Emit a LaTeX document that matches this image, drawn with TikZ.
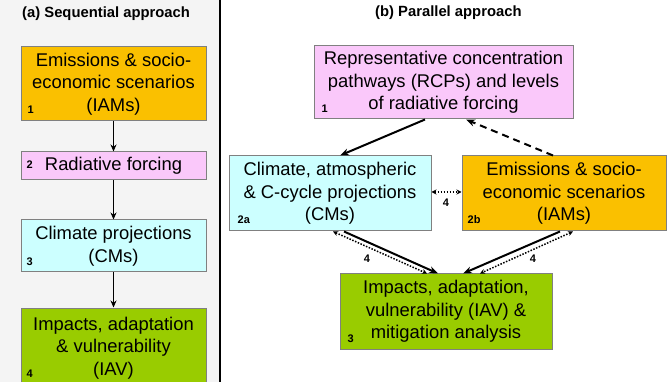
\documentclass[tikz,border=0pt]{standalone}
\usepackage{fontspec}
\setmainfont{Liberation Sans}
\usetikzlibrary{arrows.meta,positioning}
\definecolor{iamorange}{RGB}{250,192,0}
\definecolor{rcppink}{RGB}{250,200,250}
\definecolor{cmcyan}{RGB}{204,255,255}
\definecolor{iavgreen}{RGB}{153,204,0}
\definecolor{panelgray}{RGB}{244,244,244}

\tikzset{
  box/.style={draw=gray, line width=1pt, align=center, inner sep=0pt,
    font=\fontsize{18.4}{22.5}\selectfont},
  num/.style={font=\bfseries\fontsize{11}{12}\selectfont, inner sep=0pt},
  paneltitle/.style={font=\bfseries\fontsize{14.8}{17}\selectfont, inner sep=0pt},
  seq/.style={-{Stealth[length=7pt,width=6pt]}, line width=1.4pt},
  par/.style={-{Stealth[length=9pt,width=7pt]}, line width=2pt},
  dots/.style={{Stealth[length=5pt,width=5pt]}-{Stealth[length=5pt,width=5pt]},
    line width=1.5pt, dash pattern=on 1.5pt off 1.5pt}
}

\begin{document}
\begin{tikzpicture}[x=1pt,y=-1pt]
  % panels
  \clip (0,0) rectangle (667,382);
  \fill[panelgray] (0,0) rectangle (220,382);
  \fill[white] (220,0) rectangle (667,382);
  \draw[line width=2pt] (220,0) -- (220,382);

  % titles
  \node[paneltitle, anchor=west] (ta) at (22,14) {(a) Sequential approach};
  \node[paneltitle, anchor=west] (tb) at (375,13) {(b) Parallel approach};

  % (a) boxes
  \node[box, fill=iamorange, minimum width=185pt, minimum height=74pt] (a1) at (113.5,84)
    {Emissions \& socio-\\economic scenarios\\(IAMs)};
  \node[box, fill=rcppink, minimum width=185pt, minimum height=28pt] (a2) at (113.5,166)
    {Radiative forcing};
  \node[box, fill=cmcyan, minimum width=185pt, minimum height=52pt] (a3) at (113.5,246)
    {Climate projections\\(CMs)};
  \node[box, fill=iavgreen, minimum width=185pt, minimum height=80pt] (a4) at (113.5,348)
    {Impacts, adaptation\\\& vulnerability\\(IAV)};

  \node[num, above right=8pt and 7pt of a1.south west] (n1) {1};
  \node[num, above right=12pt and 6pt of a2.south west] (n2) {2};
  \node[num, above right=7pt and 6pt of a3.south west] (n3) {3};
  \node[num, above right=11pt and 6pt of a4.south west] (n4) {4};

  \draw[seq] (a1) -- (a2);
  \draw[seq] (a2) -- (a3);
  \draw[seq] (a3) -- (a4);

  % (b) boxes
  \node[box, fill=rcppink, minimum width=259pt, minimum height=73pt] (b1) at (443.5,82.5)
    {Representative concentration\\pathways (RCPs) and levels\\of radiative forcing};
  \node[box, fill=cmcyan, minimum width=202pt, minimum height=75pt] (b2a) at (330,193.5)
    {Climate, atmospheric\\\& C-cycle projections\\(CMs)};
  \node[box, fill=iamorange, minimum width=204pt, minimum height=75pt] (b2b) at (564,193.5)
    {Emissions \& socio-\\economic scenarios\\(IAMs)};
  \node[box, fill=iavgreen, minimum width=212pt, minimum height=75pt] (b3) at (446,311.5)
    {Impacts, adaptation,\\vulnerability (IAV) \&\\mitigation analysis};

  \node[num, above right=7pt and 8pt of b1.south west] (m1) {1};
  \node[num, above right=8pt and 9pt of b2a.south west] (m2a) {2a};
  \node[num, above right=8pt and 6pt of b2b.south west] (m2b) {2b};
  \node[num, above right=7pt and 8pt of b3.south west] (m3) {3};

  % (b) links
  \draw[par] ([xshift=-18.5pt]b1.south) -- ([xshift=10pt]b2a.north);
  \draw[par, dashed, dash pattern=on 7pt off 5pt] ([xshift=-11pt]b2b.north) -- ([xshift=22.5pt]b1.south);
  \draw[dots] ([yshift=1.5pt]b2a.east) -- ([yshift=1.5pt]b2b.west);
  \node[num] (l1) at (446,203) {4};

  \draw[par] ([xshift=14pt]b2a.south) -- ([xshift=-8pt]b3.north);
  \draw[dots] ([xshift=3pt]b2a.south) -- ([xshift=-19pt]b3.north);
  \draw[par] ([xshift=-4pt]b2b.south) -- ([xshift=17pt]b3.north);
  \draw[dots] ([xshift=9pt]b2b.south) -- ([xshift=34pt]b3.north);
  \node[num] (l2) at (367,259) {4};
  \node[num] (l3) at (533,259) {4};
\end{tikzpicture}
\end{document}
